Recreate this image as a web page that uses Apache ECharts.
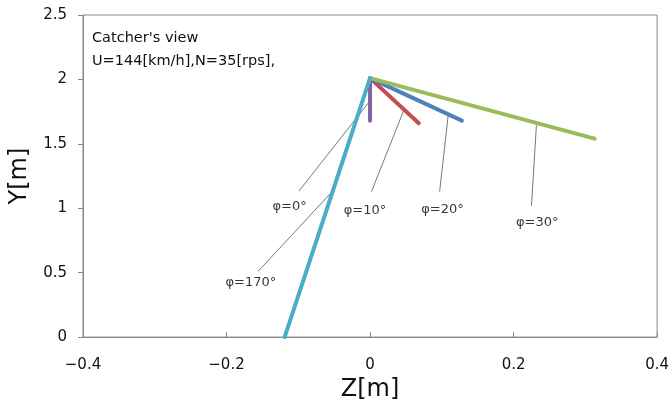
<!DOCTYPE html>
<html><head><meta charset="utf-8">
<script src="https://cdn.jsdelivr.net/npm/echarts@6/dist/echarts.min.js"></script>
<style>html,body{margin:0;padding:0;background:#fff}#c{width:672px;height:407px}</style>
</head><body><div id="c"></div>
<script>
// Trajectories (Z, Y) in metres
const seriesNames = ['φ=0°','φ=10°','φ=20°','φ=30°','φ=170°'];
const phi0   = [[0, 2.01], [0, 1.68]];
const phi10  = [[0, 2.01], [0.068, 1.66]];
const phi20  = [[0, 2.01], [0.128, 1.68]];
const phi30  = [[0, 2.01], [0.313, 1.54]];
const phi170 = [[0, 2.01], [-0.119, 0]];
const colors = ['#8064A2', '#C0504D', '#4F81BD', '#9BBB59', '#4BACC6'];

// Leader lines (from label to curve) and label anchors
const leaders = [
  [[-0.099, 1.134], [-0.002, 1.82]],
  [[0.002, 1.129], [0.047, 1.76]],
  [[0.097, 1.129], [0.109, 1.727]],
  [[0.225, 1.019], [0.232, 1.659]],
  [[-0.156, 0.51], [-0.052, 1.134]]
];
const labelPos = [[-0.112, 1.01], [-0.007, 0.98], [0.101, 0.99], [0.233, 0.89], [-0.166, 0.42]];

const xTicks = {min: -0.4, max: 0.4, interval: 0.2};
const yTicks = {min: 0, max: 2.5, interval: 0.5};
const titleLines = ["Catcher's view", 'U=144[km/h],N=35[rps],'];

const data = [phi0, phi10, phi20, phi30, phi170];
const series = [];
leaders.forEach((l) => {
  series.push({type: 'line', data: l, symbol: 'none', silent: true,
    lineStyle: {color: '#555', width: 0.8}, z: 1});
});
data.forEach((d, i) => {
  series.push({type: 'line', name: seriesNames[i], data: d, symbol: 'none',
    lineStyle: {color: colors[i], width: 4, cap: 'round'}, z: 3});
});
series.push({type: 'scatter', symbolSize: 0, silent: true,
  data: labelPos.map((p, i) => ({value: p, label: {show: true, formatter: seriesNames[i]}})),
  label: {position: 'inside', color: '#000', fontSize: 13, fontFamily: 'DejaVu Sans'}});
const fmt = v => String(+v.toFixed(2)).replace('-', '−');
const chart = echarts.init(document.getElementById('c'));
chart.setOption({
  animation: false,
  grid: {left: 83, right: 14, top: 15, bottom: 68, show: true, borderColor: '#888', borderWidth: 1},
  graphic: [{type: 'text', left: 92, top: 27,
    style: {text: titleLines.join('\n'), fontSize: 14.5, lineHeight: 23, fill: '#111', fontFamily: 'DejaVu Sans'}}],
  xAxis: {type: 'value', min: xTicks.min, max: xTicks.max, interval: xTicks.interval,
    name: 'Z[m]', nameLocation: 'middle', nameGap: 36,
    nameTextStyle: {fontSize: 24, color: '#111', fontFamily: 'DejaVu Sans'},
    axisLine: {show: true, onZero: false, lineStyle: {color: '#888'}},
    axisTick: {show: true, inside: true, length: 5, lineStyle: {color: '#888'}},
    axisLabel: {fontSize: 15, color: '#111', margin: 21, formatter: fmt, fontFamily: 'DejaVu Sans'},
    splitLine: {show: false}},
  yAxis: {type: 'value', min: yTicks.min, max: yTicks.max, interval: yTicks.interval,
    name: 'Y[m]', nameLocation: 'middle', nameGap: 50,
    nameTextStyle: {fontSize: 24, color: '#111', fontFamily: 'DejaVu Sans'},
    axisLine: {show: true, onZero: false, lineStyle: {color: '#888'}},
    axisTick: {show: true, inside: false, length: 5, lineStyle: {color: '#888'}},
    axisLabel: {fontSize: 15, color: '#111', margin: 16, formatter: fmt, fontFamily: 'DejaVu Sans'},
    splitLine: {show: false}},
  series: series
});
</script></body></html>
